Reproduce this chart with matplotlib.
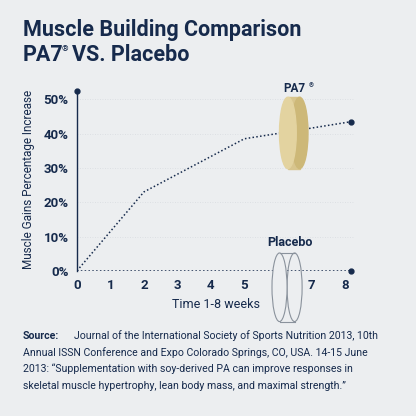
import matplotlib.pyplot as plt
from matplotlib.patches import Ellipse, Rectangle

weeks_pa7 = [0, 2, 5, 6.3, 8.2]
gain_pa7 = [0, 23, 38.5, 40.5, 43.5]
weeks_placebo = [0, 8.2]
gain_placebo = [0, 0]
y_ticks = [0, 10, 20, 30, 40, 50]
x_ticks = [0, 1, 2, 3, 4, 5, 6, 7, 8]

navy = "#162a4c"
bg = "#eceef0"

plt.rcParams['font.family'] = ['Roboto', 'DejaVu Sans']
fig = plt.figure(figsize=(4.16, 4.16), dpi=100)
fig.patch.set_facecolor(bg)
ax = fig.add_axes([0.185, 0.349, 0.668, 0.437])
ax.set_facecolor(bg)
ax.set_xlim(0, 8.3)
ax.set_ylim(0, 53)

for y in y_ticks[1:]:
    ax.axhline(y, color="#d8dbe0", lw=0.6, ls=(0, (1, 2)), zorder=0)

ax.plot(weeks_pa7, gain_pa7, color=navy, lw=1.1, ls=(0, (1, 1.5)), zorder=2)
ax.plot(weeks_placebo, gain_placebo, color=navy, lw=1.1, ls=(0, (1, 1.5)), zorder=2)
ax.plot([8.2], [43.5], "o", color=navy, ms=3.5, clip_on=False, zorder=5)
ax.plot([8.2], [0], "o", color=navy, ms=3.5, clip_on=False, zorder=5)
ax.plot([0, 0], [0, 52.5], color=navy, lw=1, clip_on=False)
ax.plot([0], [52.5], "o", color=navy, ms=3.5, clip_on=False)

for s in ax.spines.values():
    s.set_visible(False)
ax.set_yticks(y_ticks)
ax.set_yticklabels([f"{v}%" for v in y_ticks], fontsize=9.5, fontweight="bold", color=navy)
ax.set_xticks(x_ticks)
ax.set_xticklabels([str(v) for v in x_ticks], fontsize=9.5, fontweight="bold", color=navy)
ax.tick_params(length=0, pad=6)
ax.set_xlabel("Time 1-8 weeks", fontsize=9, color=navy, labelpad=4)
ax.set_ylabel("Muscle Gains Percentage Increase", fontsize=8.5, color=navy, labelpad=6)

# PA7 pill
ax.add_patch(Rectangle((6.3, 29.8), 0.35, 20.8, color="#d8c58e", zorder=3, clip_on=False))
ax.add_patch(Ellipse((6.65, 40.2), 0.5, 20.8, color="#cdb878", zorder=3, clip_on=False))
ax.add_patch(Ellipse((6.3, 40.2), 0.5, 20.8, color="#e3d3a0", zorder=4, clip_on=False))
ax.text(6.5, 52, "PA7", ha="center", fontsize=8.5, fontweight="bold", color=navy)
ax.text(6.93, 53.6, "®", ha="left", fontsize=4.5, fontweight="bold", color=navy)

# Placebo pill
ax.add_patch(Ellipse((6.5, -4.8), 0.45, 20, fill=False, ec="#8a929c", lw=0.8, zorder=3, clip_on=False))
ax.add_patch(Ellipse((6.05, -4.8), 0.45, 20, fc=bg, ec="#8a929c", lw=0.8, zorder=4, clip_on=False))
ax.plot([6.05, 6.5], [5.2, 5.2], color="#8a929c", lw=0.8, clip_on=False, zorder=4)
ax.plot([6.05, 6.5], [-14.8, -14.8], color="#8a929c", lw=0.8, clip_on=False, zorder=4)
ax.text(6.35, 7.3, "Placebo", ha="center", fontsize=9, fontweight="bold", color=navy)

fig.text(0.055, 0.913, "Muscle Building Comparison", fontsize=15.5, fontweight="bold", color=navy)
fig.text(0.055, 0.853, "PA7", fontsize=15.5, fontweight="bold", color=navy)
fig.text(0.148, 0.878, "®", fontsize=6, fontweight="bold", color=navy)
fig.text(0.172, 0.853, "VS. Placebo", fontsize=15.5, fontweight="bold", color=navy)

fig.text(0.055, 0.185, "Source:", fontsize=7.6, fontweight="bold", color=navy)
fig.text(0.178, 0.185, "Journal of the International Society of Sports Nutrition 2013, 10th", fontsize=7.6, color=navy)
fig.text(0.055, 0.145, "Annual ISSN Conference and Expo Colorado Springs, CO, USA. 14-15 June", fontsize=7.6, color=navy)
fig.text(0.055, 0.105, "2013: \u201cSupplementation with soy-derived PA can improve responses in", fontsize=7.6, color=navy)
fig.text(0.055, 0.065, "skeletal muscle hypertrophy, lean body mass, and maximal strength.\u201d", fontsize=7.6, color=navy)

fig.savefig("out.png", dpi=100, facecolor=bg)
